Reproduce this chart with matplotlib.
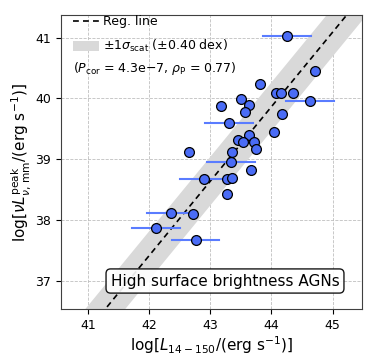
import matplotlib
matplotlib.use("Agg")
import matplotlib.pyplot as plt
import numpy as np

# log L(14-150 keV) and log nuL_nu peak (mm)
log_lx = [44.25, 44.72, 43.81, 44.07, 44.16, 44.36, 44.63, 43.51, 43.17, 43.64,
          43.57, 44.18, 43.31, 44.05, 43.63, 43.46, 43.53, 43.72, 43.75, 42.65,
          43.35, 43.34, 43.66, 42.89, 43.27, 43.36, 43.28, 42.36, 42.72, 42.11,
          42.76]
log_lmm = [41.03, 40.45, 40.24, 40.09, 40.09, 40.09, 39.95, 39.99, 39.88, 39.89,
           39.78, 39.75, 39.59, 39.45, 39.40, 39.31, 39.28, 39.28, 39.16, 39.11,
           39.11, 38.95, 38.82, 38.67, 38.67, 38.69, 38.42, 38.11, 38.10, 37.87,
           37.67]
# x errors (only some sources)
xerr = [0.39, 0, 0, 0, 0, 0, 0.39, 0, 0, 0,
        0, 0, 0.39, 0, 0, 0, 0, 0, 0, 0,
        0, 0.39, 0, 0.39, 0, 0, 0, 0.39, 0, 0.39,
        0.39]

# regression
slope = 1.226
x0, y0 = 41.29, 36.54
sigma = 0.40

fig = plt.figure(figsize=(3.81, 3.6), dpi=100)
ax = fig.add_axes([0.160, 0.141, 0.790, 0.817])

xx = np.linspace(40.0, 46.0, 50)
yy = y0 + slope * (xx - x0)
ax.fill_between(xx, yy - sigma, yy + sigma, color='0.85', lw=0,
                label=r'$\pm1\sigma_{\rm scat}$ ($\pm$0.40 dex)', zorder=1)
ax.plot(xx, yy, 'k--', lw=1.2, dashes=(3.5, 2.5), label='Reg. line', zorder=2)

xe = np.array(xerr)
for x, y, e in zip(log_lx, log_lmm, xe):
    if e > 0:
        ax.plot([x - e, x + e], [y, y], color='#5a7cff', lw=1.5, zorder=3)
ax.scatter(log_lx, log_lmm, s=50, c='#4a6cf6', edgecolors='k', linewidths=0.9, zorder=4)

ax.set_xlim(40.56, 45.48)
ax.set_ylim(36.53, 41.37)
ax.set_xticks([41, 42, 43, 44, 45])
ax.set_yticks([37, 38, 39, 40, 41])
ax.tick_params(labelsize=9, length=3.5)
ax.grid(True, ls='--', color='0.75', lw=0.6)
ax.set_axisbelow(True)
for sp in ax.spines.values():
    sp.set_color('0.25')

ax.set_xlabel(r'$\log[L_{14-150}/({\rm erg\ s^{-1}})]$', fontsize=11, labelpad=2)
ax.set_ylabel(r'$\log[\nu L_{\nu,\,{\rm mm}}^{\rm peak}/({\rm erg\ s^{-1}})]$', fontsize=11, labelpad=2)

h, l = ax.get_legend_handles_labels()
ax.legend(h[::-1], l[::-1], loc='upper left', bbox_to_anchor=(0.037, 1.002), frameon=False,
          fontsize=9, handlelength=2.1, handleheight=0.8, handletextpad=0.3,
          borderaxespad=0.0, borderpad=0.05, labelspacing=0.8)
ax.text(0.04, 0.82, r'($P_{\rm cor}$ = 4.3e$-$7, $\rho_{\rm P}$ = 0.77)',
        transform=ax.transAxes, fontsize=9, va='center')
ax.text(0.545, 0.096, 'High surface brightness AGNs', transform=ax.transAxes,
        fontsize=11, ha='center', va='center',
        bbox=dict(boxstyle='round,pad=0.3', fc='white', ec='k', alpha=0.9))

fig.savefig('out.png', dpi=100)
